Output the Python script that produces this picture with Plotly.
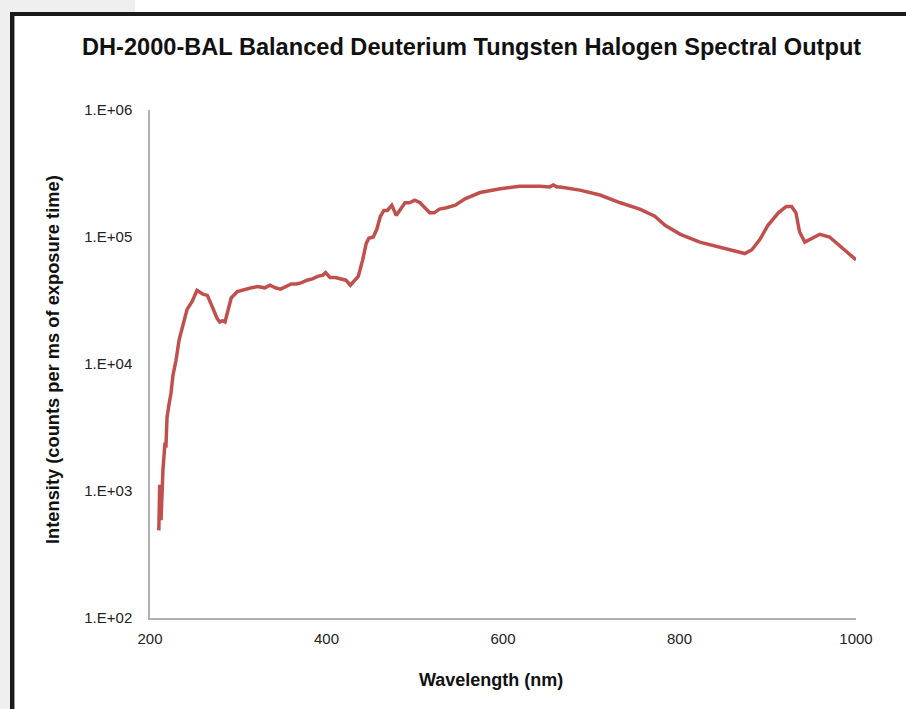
import plotly.graph_objects as go

wavelength = [210, 211, 212.5, 213.6, 214.7, 215.9, 217, 218, 219.3, 221.5, 223.8, 226, 229.5, 233,
              237.4, 242, 247.6, 253.3, 260, 265, 270, 276, 279, 282, 285, 288, 292, 299, 308, 315,
              322, 330, 336, 342, 348, 353, 360, 366, 372, 378, 384, 390, 396, 399, 404, 410, 416,
              422, 427, 431, 436, 441, 445, 448, 453, 457, 461, 465, 469, 474, 479, 484, 489, 494,
              500, 506, 512, 517, 522, 528, 536, 546, 557, 574, 597, 619, 642, 653, 657, 661, 665,
              687, 710, 733, 755, 772, 784, 801, 823, 846, 863, 874, 882, 891, 900, 912, 921, 927,
              932, 936, 942, 950, 959, 970, 982, 993, 1000]
intensity = [490, 1120, 590, 1230, 1480, 1900, 2400, 2190, 3800, 4790, 5890, 8130, 10700, 15500,
             20900, 26900, 30900, 38000, 35500, 34700, 28800, 22900, 21400, 21900, 21400, 26300,
             33100, 37200, 38900, 39800, 40700, 39800, 41700, 39800, 38900, 40700, 42700, 42700,
             43700, 45700, 46800, 49000, 50100, 52500, 47900, 47900, 46800, 45700, 41700, 44700,
             49000, 66100, 89100, 97700, 100000, 115000, 145000, 162000, 162000, 178000, 148000,
             166000, 186000, 186000, 195000, 186000, 170000, 155000, 155000, 166000, 170000,
             178000, 200000, 224000, 240000, 251000, 251000, 248000, 257000, 248000, 248000,
             234000, 214000, 186000, 166000, 146000, 123000, 105000, 91200, 83200, 77600, 74100,
             79400, 95500, 123000, 155000, 174000, 174000, 155000, 110000, 91200, 97700, 105000,
             100000, 85100, 74100, 66100]

x_ticks = [200, 400, 600, 800, 1000]
y_ticks = [1e2, 1e3, 1e4, 1e5, 1e6]
y_tick_labels = ["1.E+02", "1.E+03", "1.E+04", "1.E+05", "1.E+06"]

title_text = "DH-2000-BAL Balanced Deuterium Tungsten Halogen Spectral Output"
x_title = "Wavelength (nm)"
y_title = "Intensity (counts per ms of exposure time)"

FONT = "Liberation Sans, Arial, Helvetica, sans-serif"
W, H = 906, 709
L, R, T, B = 150, 50, 110, 91
PW, PH = W - L - R, H - T - B


def px_x(p):
    return (p - L) / PW


def px_y(p):
    return (H - B - p) / PH


fig = go.Figure()
fig.add_trace(go.Scatter(x=wavelength, y=intensity, mode="lines",
                         line=dict(color="#c0504d", width=3.5), showlegend=False,
                         hoverinfo="x+y"))

shapes = [
    dict(type="rect", xref="paper", yref="paper", x0=px_x(0), x1=px_x(10), y0=px_y(709), y1=px_y(0),
         fillcolor="#efefef", line=dict(width=0), layer="below"),
    dict(type="rect", xref="paper", yref="paper", x0=px_x(0), x1=px_x(135), y0=px_y(12), y1=px_y(0),
         fillcolor="#efefef", line=dict(width=0), layer="below"),
    dict(type="rect", xref="paper", yref="paper", x0=px_x(10), x1=px_x(14), y0=px_y(709), y1=px_y(12),
         fillcolor="#1a1a1a", line=dict(width=0), layer="above"),
    dict(type="rect", xref="paper", yref="paper", x0=px_x(10), x1=px_x(906), y0=px_y(16), y1=px_y(12),
         fillcolor="#1a1a1a", line=dict(width=0), layer="above"),
    dict(type="line", xref="paper", yref="paper", x0=px_x(14.5), x1=px_x(14.5), y0=px_y(709), y1=px_y(16),
         line=dict(color="#999999", width=1), layer="above"),
]

annotations = [
    dict(text="<b>" + title_text + "</b>", xref="paper", yref="paper", x=px_x(471), y=px_y(47),
         xanchor="center", yanchor="middle", showarrow=False, font=dict(size=23.6, color="#111111")),
    dict(text="<b>" + x_title + "</b>", xref="paper", yref="paper", x=px_x(491), y=px_y(680),
         xanchor="center", yanchor="middle", showarrow=False, font=dict(size=18, color="#111111")),
    dict(text="<b>" + y_title + "</b>", xref="paper", yref="paper", x=px_x(52), y=px_y(360),
         xanchor="center", yanchor="middle", showarrow=False, textangle=-90,
         font=dict(size=18.3, color="#111111")),
]

fig.update_layout(
    width=W, height=H,
    margin=dict(l=L, r=R, t=T, b=B, pad=0),
    paper_bgcolor="white", plot_bgcolor="white",
    font=dict(family=FONT, size=15, color="#222222"),
    shapes=shapes, annotations=annotations,
    xaxis=dict(range=[200, 1000], tickvals=x_ticks, ticks="", showgrid=False, zeroline=False,
               showline=True, linecolor="#b0b0b0", linewidth=1.5, tickfont=dict(size=15),
               ticklabelstandoff=6),
    yaxis=dict(type="log", range=[2, 6], tickvals=y_ticks, ticktext=y_tick_labels, ticks="",
               showgrid=False, zeroline=False, showline=True, linecolor="#b0b0b0", linewidth=1.5,
               tickfont=dict(size=15), ticklabelstandoff=13),
)

fig.write_html("out.html", config={"displayModeBar": False},
               post_script="document.body.style.margin='0px';")
